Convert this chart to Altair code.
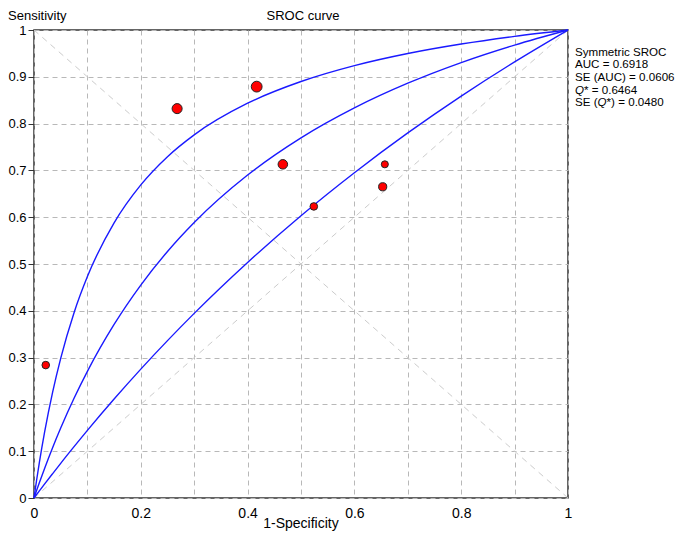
import altair as alt
import pandas as pd

# ---- study points (1-specificity, sensitivity, relative weight) ----
fpr = [0.022, 0.268, 0.417, 0.466, 0.524, 0.657, 0.653]
sens = [0.284, 0.832, 0.879, 0.713, 0.623, 0.713, 0.665]
weight = [50, 88, 102, 79, 50, 43, 58]

# ---- SROC curves ----
curve_x = [0, 0.005, 0.01, 0.02, 0.035, 0.05, 0.075, 0.1, 0.15, 0.2, 0.25,
           0.3, 0.4, 0.5, 0.6, 0.7, 0.8, 0.9, 1.0]
upper = [0, 0.0390, 0.0755, 0.1416, 0.2268, 0.2985, 0.3960, 0.4732, 0.5879,
         0.6690, 0.7294, 0.7760, 0.8435, 0.8899, 0.9238, 0.9497, 0.9700,
         0.9864, 1]
sroc = [0, 0.0165, 0.0326, 0.0638, 0.1081, 0.1495, 0.2131, 0.2707, 0.3708,
        0.4550, 0.5268, 0.5887, 0.6901, 0.7696, 0.8336, 0.8863, 0.9304,
        0.9678, 1]
lower = [0, 0.0076, 0.0151, 0.0301, 0.0522, 0.0741, 0.1097, 0.1445, 0.2115,
         0.2754, 0.3363, 0.3945, 0.5033, 0.6032, 0.6951, 0.7801, 0.8588,
         0.9319, 1]

# ---- reference diagonals ----
diag_x = [0, 1]
diag_up = [0, 1]
diag_down = [1, 0]

# ---- axis ticks ----
ticks = [round(i * 0.1, 1) for i in range(11)]

FONT = "Liberation Sans"

pts = pd.DataFrame({"fpr": fpr, "sens": sens, "w": weight})
curves = pd.concat([
    pd.DataFrame({"x": curve_x, "y": upper, "s": "upper"}),
    pd.DataFrame({"x": curve_x, "y": sroc, "s": "sroc"}),
    pd.DataFrame({"x": curve_x, "y": lower, "s": "lower"}),
])
diags = pd.concat([
    pd.DataFrame({"x": diag_x, "y": diag_up, "d": "up"}),
    pd.DataFrame({"x": diag_x, "y": diag_down, "d": "down"}),
])

xscale = alt.Scale(domain=[0, 1], nice=False)
yscale = alt.Scale(domain=[0, 1], nice=False)

xaxis = alt.Axis(
    values=ticks, title=None, grid=True, gridDash=[5, 4], gridColor="#b8b8b8",
    gridWidth=1, ticks=False, domain=False, labelFont=FONT, labelFontSize=14,
    labelColor="black", labelPadding=8, labelFlush=False,
    labelExpr="round(datum.value*10) % 2 == 0 ? format(datum.value, '.1~f') : ''",
)
yaxis = alt.Axis(
    values=ticks, title=None, grid=True, gridDash=[5, 4], gridColor="#b8b8b8",
    gridWidth=1, tickSize=6, tickColor="#333333", domain=False, labelFont=FONT,
    labelFontSize=13, labelColor="black", labelPadding=2, format=".1~f",
)

diag_layer = alt.Chart(diags).mark_line(
    color="#cccccc", strokeDash=[6, 5], strokeWidth=1
).encode(
    x=alt.X("x:Q", scale=xscale, axis=xaxis),
    y=alt.Y("y:Q", scale=yscale, axis=yaxis),
    detail="d:N",
)

curve_layer = alt.Chart(curves).mark_line(
    color="#1a1aff", strokeWidth=1.4, interpolate="monotone"
).encode(
    x=alt.X("x:Q", scale=xscale),
    y=alt.Y("y:Q", scale=yscale),
    detail="s:N",
)

point_layer = alt.Chart(pts).mark_circle(
    color="#ff0000", opacity=1, stroke="#222222", strokeWidth=1
).encode(
    x=alt.X("fpr:Q", scale=xscale),
    y=alt.Y("sens:Q", scale=yscale),
    size=alt.Size("w:Q", scale=alt.Scale(domain=[0, 100], range=[0, 115]), legend=None),
)


def txt(t, x, y, size=14, align="left", baseline="alphabetic", style="normal"):
    return alt.Chart(pd.DataFrame({"t": [t]})).mark_text(
        font=FONT, fontSize=size, align=align, baseline=baseline,
        fontStyle=style, color="black",
    ).encode(text="t:N", x=alt.value(x), y=alt.value(y))


# plot origin is at page (34, 30)
ax0 = 541   # annotation left edge (page 575)
fs = 11.6
w_se = 22.6
w_q = 9.0
texts = [
    txt("Sensitivity", -26, -10, size=13),
    txt("SROC curve", 269, -10, size=13, align="center"),
    txt("1-Specificity", 267, 498, align="center"),
    txt("Symmetric SROC", ax0, 22.7, size=fs, baseline="middle"),
    txt("AUC = 0.6918", ax0, 35.3, size=fs, baseline="middle"),
    txt("SE (AUC) = 0.0606", ax0, 47.9, size=fs, baseline="middle"),
    txt("Q", ax0, 60.5, size=fs, baseline="middle", style="italic"),
    txt("* = 0.6464", ax0 + w_q, 60.5, size=fs, baseline="middle"),
    txt("SE (", ax0, 73.1, size=fs, baseline="middle"),
    txt("Q", ax0 + w_se, 73.1, size=fs, baseline="middle", style="italic"),
    txt("*) = 0.0480", ax0 + w_se + w_q, 73.1, size=fs, baseline="middle"),
]

chart = alt.layer(diag_layer, curve_layer, point_layer, *texts).properties(
    width=534, height=468,
    padding={"left": 26, "top": 22, "right": 109, "bottom": 33},
    autosize=alt.AutoSizeParams(type="none"),
).configure_view(stroke="#333333", strokeWidth=1.5)

chart.save("out.html", embed_options={"renderer": "svg", "actions": False})
